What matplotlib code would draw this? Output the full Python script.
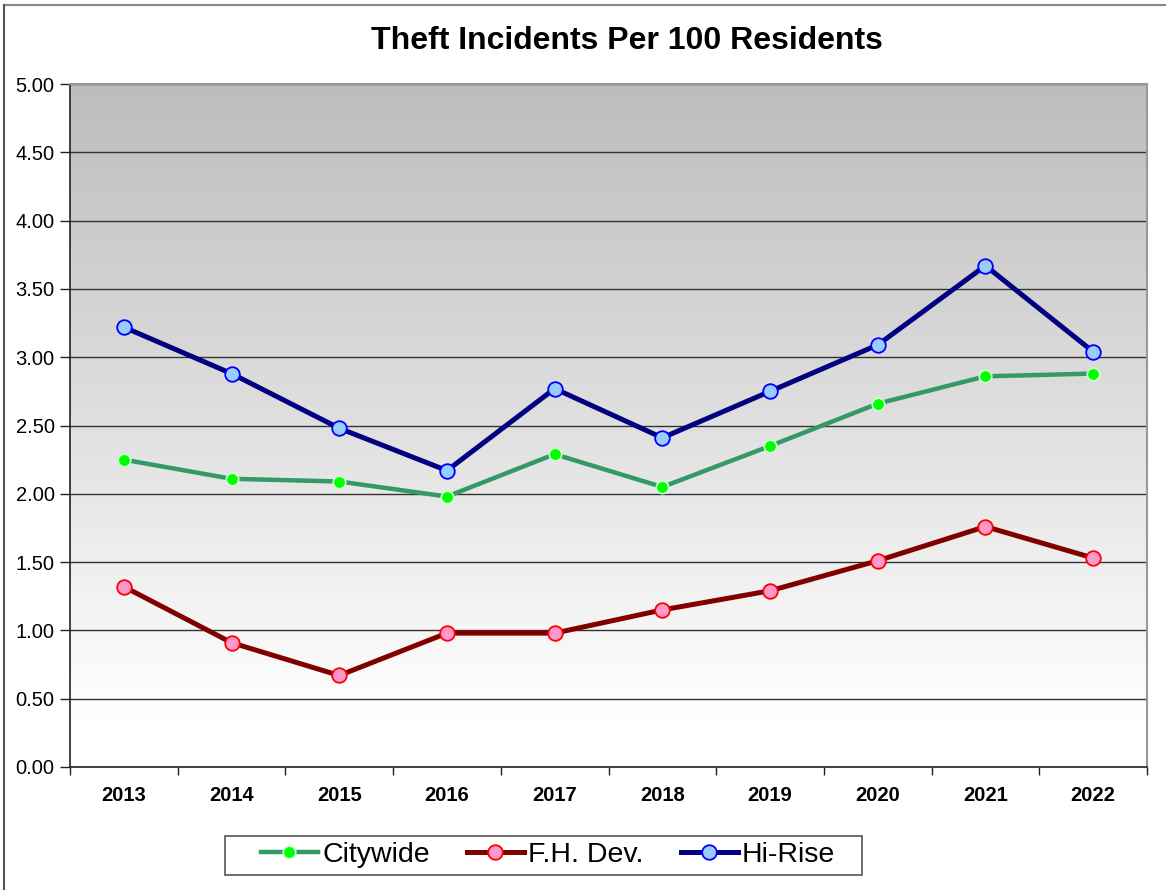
import numpy as np
import matplotlib
matplotlib.use("Agg")
import matplotlib.pyplot as plt
from matplotlib.lines import Line2D
from matplotlib.patches import Rectangle

years = ["2013", "2014", "2015", "2016", "2017", "2018", "2019", "2020", "2021", "2022"]
citywide = [2.25, 2.11, 2.09, 1.98, 2.29, 2.05, 2.35, 2.66, 2.86, 2.88]
fh_dev = [1.32, 0.91, 0.67, 0.98, 0.98, 1.15, 1.29, 1.51, 1.76, 1.53]
hi_rise = [3.22, 2.88, 2.48, 2.17, 2.77, 2.41, 2.75, 3.09, 3.67, 3.04]
yticks = [0.0, 0.5, 1.0, 1.5, 2.0, 2.5, 3.0, 3.5, 4.0, 4.5, 5.0]

plt.rcParams['font.family'] = ['Liberation Sans', 'DejaVu Sans']

W, H = 1166, 890
fig = plt.figure(figsize=(W/100, H/100), dpi=100)
ax = fig.add_axes([70/W, 1-767/H, (1147-70)/W, (767-84)/H])

# gray (top) -> white (bottom) gradient in the plot area
yy = np.linspace(0, 5, 300).reshape(-1, 1)
shade = np.clip(1.0 - 0.26 * (yy - 0.35) / 4.65, 0.74, 1.0)
ax.imshow(np.dstack([shade, shade, shade]), extent=[-0.5, 9.5, 0, 5], origin='lower',
          aspect='auto', zorder=0, interpolation='bilinear')

x = np.arange(len(years))
ax.plot(x, citywide, color='#339966', lw=3.2, marker='o', ms=9,
        mfc='#00ff00', mec='#ccffcc', mew=1.2, zorder=3, label='Citywide')
ax.plot(x, fh_dev, color='#800000', lw=3.6, marker='o', ms=10.5,
        mfc='#ff99cc', mec='#ff0000', mew=1.3, zorder=3, label='F.H. Dev.')
ax.plot(x, hi_rise, color='#000080', lw=3.6, marker='o', ms=10.5,
        mfc='#99ccff', mec='#0000ff', mew=1.3, zorder=3, label='Hi-Rise')

ax.set_xlim(-0.5, 9.5)
ax.set_ylim(0, 5)
ax.set_yticks(yticks)
ax.set_yticklabels(["%.2f" % v for v in yticks], fontsize=14.5)
ax.yaxis.grid(True, color='#333333', lw=1.0, zorder=1)
ax.set_axisbelow(True)

ax.set_xticks(x)
ax.set_xticklabels(years, fontsize=14.5, fontweight='bold')
ax.set_xticks(np.arange(-0.5, 10, 1), minor=True)
ax.tick_params(axis='x', which='major', length=0, pad=14)
ax.tick_params(axis='x', which='minor', length=6, width=1, color='#222222')
ax.tick_params(axis='y', length=7, width=1, color='#222222', pad=4)

for s in ['left', 'bottom']:
    ax.spines[s].set_color('#222222')
    ax.spines[s].set_linewidth(1.2)
for s in ['top', 'right']:
    ax.spines[s].set_color('#999999')
    ax.spines[s].set_linewidth(1.5)

fig.text(627/W, 1-41/H, "Theft Incidents Per 100 Residents", ha='center', va='center',
         fontsize=23, fontweight='bold')

# legend without its own frame; the box is drawn separately (wider side padding)
leg = ax.legend(loc='center', bbox_to_anchor=(548/W, 1-855/H), bbox_transform=fig.transFigure,
                ncol=3, frameon=False, handlelength=2.0, columnspacing=1.3,
                handletextpad=0.15, borderpad=0.2, borderaxespad=0,
                prop={'size': 20.5})
fig.add_artist(Rectangle((225/W, 1-875/H), (862-225)/W, (875-836)/H, transform=fig.transFigure,
                         facecolor='white', edgecolor='#555555', lw=1.2, zorder=-1))

# outer chart border (top and left visible)
fig.add_artist(Line2D([4/W, 1.0], [1-5/H, 1-5/H], transform=fig.transFigure,
                      color='#888888', lw=1.5))
fig.add_artist(Line2D([4/W, 4/W], [0, 1-5/H], transform=fig.transFigure,
                      color='#555555', lw=1.5))

fig.savefig("out.png", dpi=100)
